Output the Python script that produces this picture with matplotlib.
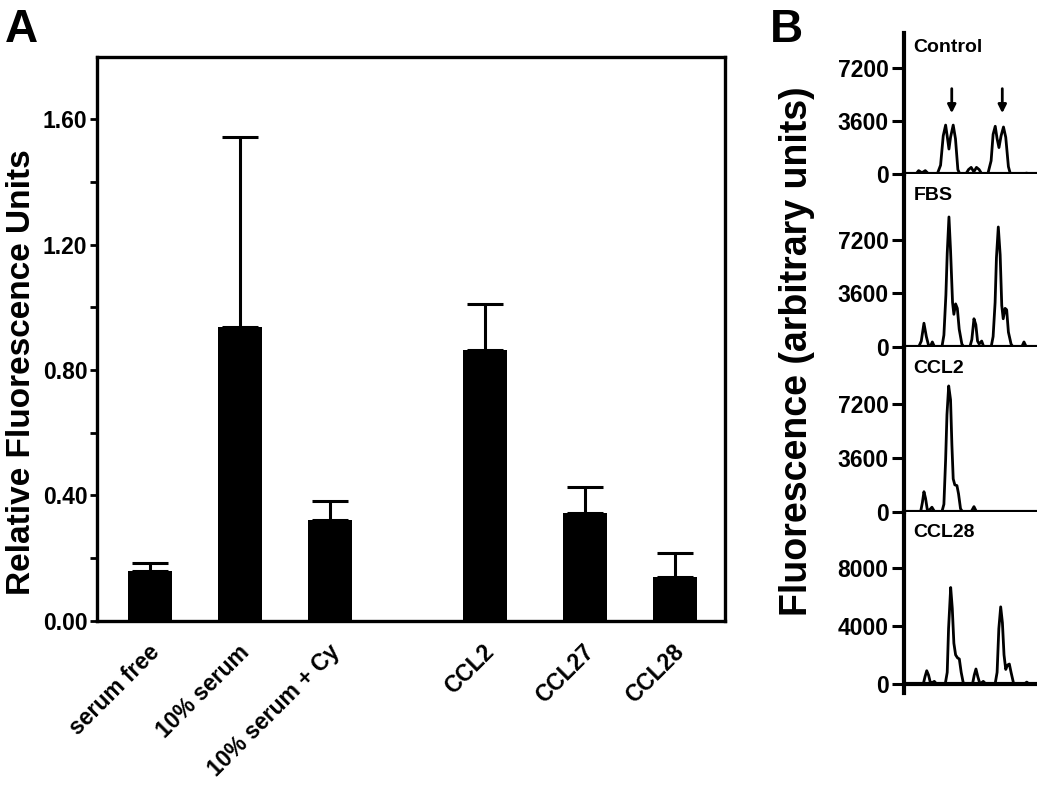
"""
Panel A: relative fluorescence bar chart; Panel B: fluorescence traces
"""

import matplotlib
matplotlib.use('Agg')
import matplotlib.pyplot as plt
from matplotlib.transforms import ScaledTranslation

plt.rcParams['font.family'] = ['Liberation Sans', 'DejaVu Sans']
plt.rcParams['font.weight'] = 'bold'

# ---- panel A data ----
conditions = ['serum free', '10% serum', '10% serum + Cy', 'CCL2', 'CCL27', 'CCL28']
rfu_mean = [0.160, 0.936, 0.322, 0.865, 0.343, 0.139]
rfu_err = [0.025, 0.609, 0.060, 0.147, 0.083, 0.076]
bar_pos = [0, 1, 2, 3.72, 4.83, 5.83]

# ---- panel B data (trace points: position, fluorescence) ----
trace_names = ['Control', 'FBS', 'CCL2', 'CCL28']

control_x = [2, 9, 11, 13.5, 16, 18.5, 25, 27.5, 29.5, 31.3, 32.6, 33.8, 35, 37, 38.7, 40.5, 42,
             46.5, 48.5, 50.5, 52.5, 54.5, 56.5, 58.5, 63, 65.5, 67, 68.6, 70, 71.4, 73, 74.8,
             76.5, 78.5, 80, 90, 92, 96, 100]
control_y = [0, 0, 230, 80, 230, 0, 0, 600, 2600, 3330, 2500, 1700, 2500, 3330, 2400, 300, 0,
             0, 300, 450, 150, 450, 300, 0, 0, 900, 2700, 3250, 2400, 1800, 2600, 3200,
             2500, 500, 0, 0, 60, 0, 0]

fbs_x = [2, 11, 13, 15, 16.8, 18.5, 20, 21.3, 23, 28.5, 30, 31.5, 32.5, 33.8, 35, 36.5, 37.5,
         38.8, 40.1, 41.5, 43.5, 45, 49.5, 51, 52.6, 54, 55.3, 56.5, 58.4, 60, 65.5, 67, 68.5,
         69.5, 70.9, 72.3, 73.5, 74.6, 76, 77.2, 78.5, 80.5, 82, 88.5, 90.2, 92, 100]
fbs_y = [0, 0, 400, 1600, 700, 100, 80, 340, 0, 0, 800, 3500, 6300, 8750, 6500, 3000, 2200,
         2900, 2600, 1200, 200, 0, 0, 500, 1900, 1500, 400, 200, 400, 0, 0, 700, 3000,
         6000, 8075, 6200, 2800, 1900, 2600, 2500, 1000, 200, 0, 0, 340, 0, 0]

ccl2_x = [2, 12.5, 13.8, 15, 16.2, 17.5, 19, 21, 23, 28.5, 30, 31.3, 32.3, 33.6, 35, 36, 37,
          38.2, 39.8, 41, 42.5, 44, 50.5, 52.6, 54.5, 100]
ccl2_y = [0, 0, 600, 1340, 900, 150, 100, 300, 0, 0, 500, 3500, 6500, 8430, 7500, 4500, 2200,
          1800, 1750, 1200, 200, 0, 0, 340, 0, 0]

ccl28_x = [2, 14.5, 15.8, 17.1, 18.5, 19.8, 21, 22.8, 24.5, 31, 32.5, 33.5, 35.1, 36.3, 37.5,
           38.8, 40.2, 41.6, 43, 44.5, 46, 51.5, 52.8, 54.1, 55.5, 56.8, 58, 59.6, 61.5, 68.5,
           70, 71.3, 72.7, 74, 75.2, 76.5, 77.8, 79.2, 80.5, 82.5, 90.5, 92.3, 94, 100]
ccl28_y = [0, 0, 500, 910, 600, 100, 80, 180, 0, 0, 800, 3800, 6630, 5200, 2800,
           2000, 1800, 1715, 800, 100, 0, 0, 600, 1030, 500, 100, 60, 180, 0, 0,
           800, 3800, 5300, 4200, 2000, 1000, 1300, 1370, 800, 0, 0, 130, 0, 0]

trace_ticks = [[0, 3600, 7200], [0, 3600, 7200], [0, 3600, 7200], [0, 4000, 8000]]
arrow_x = [35.9, 73.9]

W, H = 1050, 786
fig = plt.figure(figsize=(W / 100, H / 100), dpi=100)


def px_axes(left, top, right, bottom):
    return fig.add_axes([left / W, 1 - bottom / H, (right - left) / W, (bottom - top) / H])


# ================= Panel A =================
ax = px_axes(97, 56.7, 725, 620.7)
ax.bar(bar_pos, rfu_mean, width=0.49, color='black')
ax.errorbar(bar_pos, rfu_mean, yerr=[[0] * len(rfu_err), rfu_err], fmt='none',
            ecolor='black', elinewidth=2.2, capsize=13, capthick=2.2)
ax.set_xlim(-0.59, 6.39)
ax.set_ylim(0, 1.8)
ax.set_yticks([0, 0.4, 0.8, 1.2, 1.6])
ax.set_yticklabels(['0.00', '0.40', '0.80', '1.20', '1.60'], fontsize=16.5, fontweight='bold')
ax.set_yticks([0.2, 0.6, 1.0, 1.4], minor=True)
ax.tick_params(axis='y', which='both', direction='out', length=5, width=2, pad=2)
for s in ax.spines.values():
    s.set_linewidth(2.4)
ax.set_xticks(bar_pos)
ax.set_xticklabels(conditions, rotation=45, ha='right', va='center',
                   rotation_mode='anchor', fontsize=16.5, fontweight='bold')
ax.tick_params(axis='x', length=0, pad=20)
for lab in ax.get_xticklabels():
    lab.set_transform(lab.get_transform() + ScaledTranslation(0.06, 0, fig.dpi_scale_trans))

fig.text(22 / W, 1 - 372 / H, 'Relative Fluorescence Units', rotation=90,
         ha='center', va='center', fontsize=24, fontweight='bold')
fig.text(5 / W, 1 - 8 / H, 'A', ha='left', va='top', fontsize=33, fontweight='bold')

# ================= Panel B =================
traces = [(control_x, control_y), (fbs_x, fbs_y), (ccl2_x, ccl2_y), (ccl28_x, ccl28_y)]
edges = [33, 174, 347, 511.7, 693]
ylims = [(0, 9600), (0, 11640), (0, 11040), (-620, 11840)]

for i, name in enumerate(trace_names):
    bx = px_axes(904, edges[i], 1037, edges[i + 1])
    tx, ty = traces[i]
    bx.plot(tx, ty, color='black', lw=2)
    bx.axhline(0, color='black', lw=3)
    bx.set_xlim(0, 100)
    bx.set_ylim(*ylims[i])
    bx.set_yticks(trace_ticks[i])
    bx.set_yticklabels([str(t) for t in trace_ticks[i]], fontsize=16.5, fontweight='bold')
    bx.tick_params(axis='y', direction='out', length=9, width=2.2, pad=2)
    bx.set_xticks([])
    for side in ['top', 'right', 'bottom']:
        bx.spines[side].set_visible(False)
    bx.spines['left'].set_linewidth(3)
    bx.patch.set_alpha(0)
    off = -4 if i == 0 else -9
    bx.annotate(name, xy=(0.07, 1), xycoords='axes fraction', xytext=(0, off),
                textcoords='offset points', ha='left', va='top', fontsize=14, fontweight='bold')
    if name == 'Control':
        for axx in arrow_x:
            bx.annotate('', xy=(axx, 3950), xytext=(axx, 6000),
                        arrowprops=dict(arrowstyle='-|>', lw=2, color='black', mutation_scale=12))

fig.text(797 / W, 1 - 351 / H, 'Fluorescence (arbitrary units)', rotation=90,
         ha='center', va='center', fontsize=27, fontweight='bold')
fig.text(770 / W, 1 - 8 / H, 'B', ha='left', va='top', fontsize=33, fontweight='bold')

fig.savefig('out.png', dpi=100, facecolor='white')
